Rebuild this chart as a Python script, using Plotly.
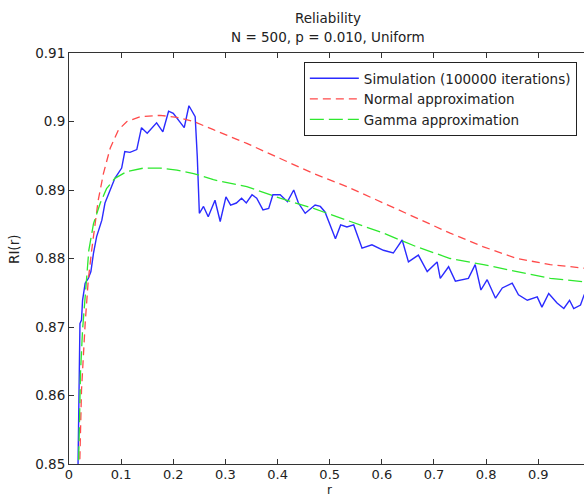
import plotly.graph_objects as go

# Simulation (100000 iterations)
sim_r = [0.017, 0.018, 0.020, 0.021, 0.024, 0.026, 0.031, 0.037, 0.042, 0.047, 0.053, 0.063,
         0.069, 0.079, 0.088, 0.101, 0.107, 0.117, 0.130, 0.139, 0.150, 0.168, 0.180, 0.191,
         0.200, 0.221, 0.230, 0.242, 0.246, 0.250, 0.258, 0.267, 0.280, 0.290, 0.301, 0.310,
         0.321, 0.331, 0.340, 0.351, 0.360, 0.372, 0.383, 0.391, 0.405, 0.419, 0.431, 0.440,
         0.453, 0.472, 0.482, 0.491, 0.511, 0.521, 0.533, 0.546, 0.562, 0.581, 0.603, 0.622,
         0.639, 0.651, 0.670, 0.687, 0.706, 0.712, 0.728, 0.741, 0.754, 0.766, 0.779, 0.790,
         0.802, 0.818, 0.831, 0.837, 0.850, 0.862, 0.879, 0.898, 0.907, 0.920, 0.936, 0.949,
         0.960, 0.968, 0.981, 0.988, 1.000]
sim_v = [0.8480, 0.8559, 0.8623, 0.8705, 0.8710, 0.8739, 0.8764, 0.8771, 0.8781, 0.8808, 0.8832, 0.8856,
         0.8881, 0.8900, 0.8917, 0.8932, 0.8956, 0.8955, 0.8959, 0.8991, 0.8983, 0.8998, 0.8985, 0.9015,
         0.9012, 0.8991, 0.9023, 0.9007, 0.8949, 0.8866, 0.8876, 0.8861, 0.8885, 0.8854, 0.8890, 0.8878,
         0.8881, 0.8888, 0.8881, 0.8893, 0.8888, 0.8871, 0.8873, 0.8893, 0.8893, 0.8883, 0.8900, 0.8881,
         0.8866, 0.8878, 0.8876, 0.8868, 0.8829, 0.8849, 0.8846, 0.8849, 0.8815, 0.8820, 0.8812, 0.8808,
         0.8827, 0.8795, 0.8805, 0.8781, 0.8795, 0.8771, 0.8788, 0.8767, 0.8769, 0.8771, 0.8791, 0.8754,
         0.8769, 0.8742, 0.8757, 0.8759, 0.8764, 0.8747, 0.8739, 0.8744, 0.8729, 0.8749, 0.8735, 0.8727,
         0.8739, 0.8727, 0.8732, 0.8747, 0.8755]

# Normal approximation
norm_r = [0.019, 0.021, 0.024, 0.031, 0.037, 0.0435, 0.050, 0.056, 0.066, 0.079, 0.095, 0.111,
          0.136, 0.175, 0.207, 0.239, 0.277, 0.341, 0.405, 0.469, 0.533, 0.603, 0.667, 0.731,
          0.795, 0.859, 0.923, 0.988, 1.000]
norm_v = [0.8450, 0.8506, 0.8608, 0.8705, 0.8769, 0.8812, 0.8851, 0.8885, 0.8924, 0.8961, 0.8988, 0.9000,
          0.9007, 0.9009, 0.9006, 0.9000, 0.8988, 0.8968, 0.8946, 0.8924, 0.8905, 0.8881, 0.8859, 0.8837,
          0.8817, 0.8800, 0.8791, 0.8786, 0.8785]

# Gamma approximation
gam_r = [0.017, 0.018, 0.020, 0.022, 0.026, 0.031, 0.038, 0.047, 0.060, 0.072, 0.088, 0.111,
         0.143, 0.175, 0.207, 0.239, 0.277, 0.341, 0.405, 0.469, 0.533, 0.603, 0.667, 0.731,
         0.795, 0.859, 0.923, 0.988, 1.000]
gam_v = [0.8450, 0.8506, 0.8559, 0.8632, 0.8696, 0.8744, 0.8812, 0.8851, 0.8881, 0.8902, 0.8917, 0.8927,
         0.8932, 0.8932, 0.8929, 0.8924, 0.8915, 0.8905, 0.8888, 0.8873, 0.8856, 0.8837, 0.8817, 0.8800,
         0.8791, 0.8781, 0.8771, 0.8766, 0.8765]

x_ticks = [0, 0.1, 0.2, 0.3, 0.4, 0.5, 0.6, 0.7, 0.8, 0.9]
x_tick_text = ["0", "0.1", "0.2", "0.3", "0.4", "0.5", "0.6", "0.7", "0.8", "0.9"]
y_ticks = [0.85, 0.86, 0.87, 0.88, 0.89, 0.90, 0.91]
y_tick_text = ["0.85", "0.86", "0.87", "0.88", "0.89", "0.9", "0.91"]

FONT = "DejaVu Sans, Liberation Sans, Arial, sans-serif"
FS = 13.5
TXT = "#222222"

fig = go.Figure()
fig.add_trace(go.Scatter(x=sim_r, y=sim_v, mode="lines", name="Simulation (100000 iterations)",
                         line=dict(color="#2b2bff", width=1.4)))
fig.add_trace(go.Scatter(x=norm_r, y=norm_v, mode="lines", name="Normal approximation",
                         line=dict(color="#ff4a4a", width=1.3, dash="8px,5px")))
fig.add_trace(go.Scatter(x=gam_r, y=gam_v, mode="lines", name="Gamma approximation",
                         line=dict(color="#2ee82e", width=1.3, dash="14px,5px")))

fig.update_layout(
    width=584, height=498,
    margin=dict(l=69, r=0, t=53, b=34),
    paper_bgcolor="white", plot_bgcolor="white",
    font=dict(family=FONT, size=FS, color=TXT),
    showlegend=True,
    legend=dict(x=0.456, y=0.978, xanchor="left", yanchor="top",
                bgcolor="white", bordercolor="#222222", borderwidth=1,
                font=dict(family=FONT, size=FS, color=TXT),
                itemwidth=49, traceorder="normal"),
    xaxis=dict(range=[0, 0.9877], tickvals=x_ticks, ticktext=x_tick_text,
               ticks="inside", ticklen=5, tickcolor="#333333",
               tickfont=dict(family=FONT, size=13, color=TXT), ticklabelstandoff=-2,
               showline=True, linecolor="#333333", linewidth=1, mirror="ticks",
               showgrid=False, zeroline=False),
    yaxis=dict(range=[0.85, 0.91], tickvals=y_ticks, ticktext=y_tick_text,
               ticks="inside", ticklen=5, tickcolor="#333333",
               showline=True, linecolor="#333333", linewidth=1, mirror=False,
               showgrid=False, zeroline=False),
    annotations=[
        dict(text="Reliability", xref="paper", yref="paper", x=0.503, y=(464 - 18) / 411,
             xanchor="center", yanchor="middle", showarrow=False,
             font=dict(family=FONT, size=FS, color=TXT)),
        dict(text="N = 500, p = 0.010, Uniform", xref="paper", yref="paper", x=0.503, y=(464 - 37) / 411,
             xanchor="center", yanchor="middle", showarrow=False,
             font=dict(family=FONT, size=FS, color=TXT)),
        dict(text="r", xref="paper", yref="paper", x=(329 - 69) / 515, y=(464 - 498) / 411,
             xanchor="center", yanchor="bottom", showarrow=False, borderpad=0,
             font=dict(family=FONT, size=12, color=TXT)),
        dict(text="RI(r)", xref="paper", yref="paper", x=(14 - 69) / 515, y=(464 - 250) / 411,
             xanchor="center", yanchor="middle", showarrow=False, textangle=-90,
             font=dict(family=FONT, size=FS, color=TXT)),
    ],
)

fig.write_html("out.html")
